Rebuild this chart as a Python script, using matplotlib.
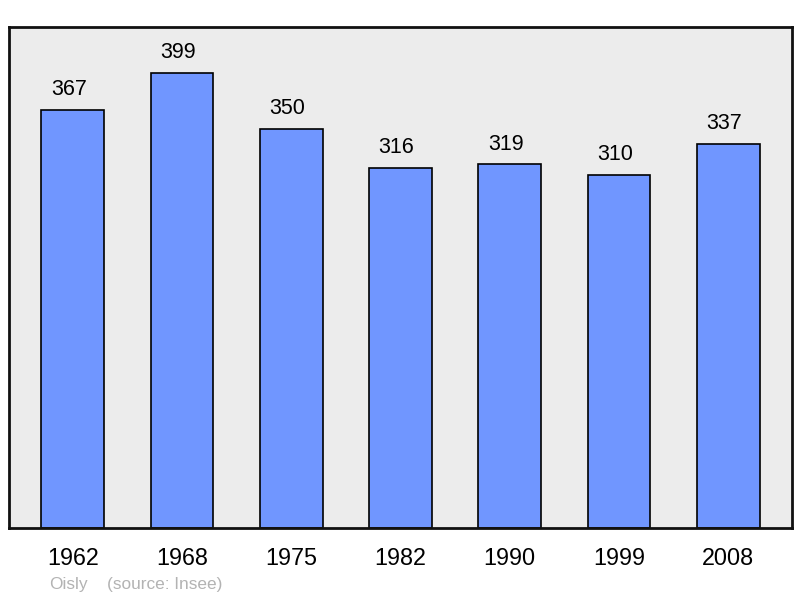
import matplotlib
matplotlib.use("Agg")
import matplotlib.pyplot as plt

years = ["1962", "1968", "1975", "1982", "1990", "1999", "2008"]
population = [367, 399, 350, 316, 319, 310, 337]
commune = "Oisly"
source = "(source: Insee)"

plt.rcParams['font.family'] = ['Liberation Sans', 'DejaVu Sans']

fig = plt.figure(figsize=(8, 5.98), dpi=100)
ax = fig.add_axes([9/800, 70/598, 783/800, 501/598])
ax.set_facecolor('#ececec')
x = list(range(len(years)))
ax.bar(x, population, width=0.575, color='#7096ff', edgecolor='black', linewidth=1.2, zorder=2)
for xi, v in zip(x, population):
    ax.annotate(str(v), (xi, v), xytext=(-2.9, 7), textcoords='offset points',
                ha='center', va='bottom', fontsize=15.5)
ax.set_xlim(-0.585, len(years) - 1 + 0.585)
ax.set_ylim(0, 439.5)
ax.set_yticks([])
ax.set_xticks(x)
ax.set_xticklabels(years, fontsize=16.8)
ax.tick_params(axis='x', length=0, pad=14)
for s in ax.spines.values():
    s.set_linewidth(2)
    s.set_color('#111111')
fig.text(49/800, 1 - 584/598, commune, color='#b3b3b3', fontsize=12.4, va='center', ha='left')
fig.text(107/800, 1 - 584/598, source, color='#b3b3b3', fontsize=12.4, va='center', ha='left')
fig.savefig('out.png', dpi=100)
